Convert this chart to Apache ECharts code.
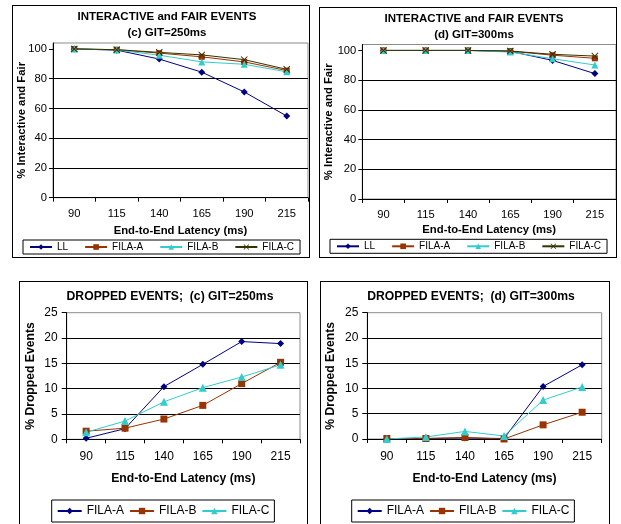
<!DOCTYPE html>
<html>
<head>
<meta charset="utf-8">
<script src="https://cdn.jsdelivr.net/npm/echarts@6/dist/echarts.min.js"></script>
<style>
  html, body { margin: 0; padding: 0; background: #fff; width: 621px; height: 524px; overflow: hidden; position: relative; }
  .panel { position: absolute; box-sizing: border-box; border: 1px solid #000; background: #fff; }
</style>
</head>
<body>
<div id="fair250" class="panel" style="left:12px;top:5px;width:298px;height:253px"></div>
<div id="fair300" class="panel" style="left:319px;top:7px;width:298px;height:251px"></div>
<div id="drop250" class="panel" style="left:19px;top:281px;width:289px;height:260px"></div>
<div id="drop300" class="panel" style="left:320px;top:281px;width:290px;height:260px"></div>
<script>
// End-to-end latency categories (ms)
const latencies = ['90', '115', '140', '165', '190', '215'];

// Axis tick labels
const fairTicks = [0, 20, 40, 60, 80, 100];
const dropTicks = [0, 5, 10, 15, 20, 25];

// % interactive and fair, GIT = 250 ms
const fair250LL    = [100, 99.2, 93.2, 84.4, 71.1, 54.9];
const fair250FilaA = [100, 99.5, 97.2, 94.7, 91.3, 85.5];
const fair250FilaB = [100, 99.3, 95.8, 91.3, 89.7, 84.6];
const fair250FilaC = [100, 99.5, 97.7, 96.0, 92.8, 86.3];

// % interactive and fair, GIT = 300 ms
const fair300LL    = [100, 100, 100, 99.4, 93.3, 84.4];
const fair300FilaA = [100, 100, 100, 99.5, 96.8, 94.7];
const fair300FilaB = [100, 100, 100, 98.9, 94.4, 90.2];
const fair300FilaC = [100, 100, 100, 99.6, 97.4, 96.2];

// % dropped events, GIT = 250 ms
const drop250FilaA = [0.2, 2.1, 10.4, 14.8, 19.3, 18.9];
const drop250FilaB = [1.6, 2.2, 4.0, 6.7, 11.0, 15.2];
const drop250FilaC = [1.4, 3.6, 7.4, 10.2, 12.3, 14.7];

// % dropped events, GIT = 300 ms
const drop300FilaA = [0, 0.1, 0.2, 0.1, 10.4, 14.7];
const drop300FilaB = [0.1, 0.1, 0.3, 0, 2.8, 5.3];
const drop300FilaC = [0, 0.4, 1.5, 0.6, 7.7, 10.3];

const NAVY = '#000080', BROWN = '#993300', CYAN = '#33CCCC', OLIVE = '#333300';
const CROSS = 'path://M0,1 L1,0 L5,4 L9,0 L10,1 L6,5 L10,9 L9,10 L5,6 L1,10 L0,9 L4,5 Z';
const FONT = '"Liberation Sans", Arial, sans-serif';

function lineSeries(name, data, color, symbol, size) {
  return {
    name: name, type: 'line', data: data,
    symbol: symbol, symbolSize: size, showSymbol: true,
    lineStyle: { width: 1, color: color },
    itemStyle: { color: color },
    emphasis: { disabled: true }
  };
}

function build(id, p) {
  const chart = echarts.init(document.getElementById(id), null, { renderer: 'canvas' });
  chart.setOption({
    animation: false,
    textStyle: { fontFamily: FONT, color: '#000' },
    title: {
      text: p.title, left: p.titleX, top: p.titleY, textAlign: 'center', padding: 0,
      textStyle: { fontFamily: FONT, fontSize: p.titleSize, fontWeight: 'bold', lineHeight: 16, color: '#000' }
    },
    grid: {
      left: p.grid[0], top: p.grid[1], width: p.grid[2], height: p.grid[3],
      outerBoundsMode: 'none', containLabel: false,
      show: true, borderColor: '#8c8c8c', borderWidth: 1, backgroundColor: '#fff'
    },
    xAxis: {
      type: 'category', data: latencies, boundaryGap: true,
      name: 'End-to-End Latency (ms)', nameLocation: 'middle', nameGap: p.xNameGap,
      nameMoveOverlap: false,
      nameTextStyle: { fontFamily: FONT, fontSize: p.nameSize, fontWeight: 'bold', color: '#000' },
      axisLine: { show: true, lineStyle: { color: '#000', width: 1 } },
      axisTick: { show: true, length: 4, lineStyle: { color: '#000' } },
      axisLabel: { fontFamily: FONT, fontSize: p.labelSize, color: '#000', margin: p.xMargin },
      splitLine: { show: false }
    },
    yAxis: {
      type: 'value', min: 0, max: p.yMax,
      name: p.yName, nameLocation: 'middle', nameGap: p.yNameGap,
      nameMoveOverlap: false,
      nameTextStyle: { fontFamily: FONT, fontSize: p.nameSize, fontWeight: 'bold', color: '#000' },
      axisLine: { show: true, lineStyle: { color: '#000', width: 1 } },
      axisTick: { show: true, length: p.yTickLen, lineStyle: { color: '#000' }, customValues: p.ticks },
      axisLabel: { fontFamily: FONT, fontSize: p.labelSize, color: '#000', margin: p.yMargin, customValues: p.ticks },
      splitLine: { show: true, showMaxLine: false, lineStyle: { color: '#000', width: 1 } }
    },
    legend: {
      left: p.legend[0], top: p.legend[1], orient: 'horizontal',
      padding: p.legendPad, itemGap: p.legendGap, itemWidth: p.legendItemW, itemHeight: p.legendIcon,
      borderColor: '#000', borderWidth: 1, backgroundColor: '#fff',
      textStyle: { fontFamily: FONT, fontSize: p.legendSize, color: '#000' },
      selectedMode: false
    },
    series: p.series
  });
}

const topCommon = {
  yMax: 104, ticks: fairTicks, yName: '% Interactive and Fair',
  titleSize: 11.5, nameSize: 11.3, labelSize: 11.2, yTickLen: 4, yMargin: 6,
  legendPad: [2, 6], legendGap: 16, legendItemW: 22, legendIcon: 7, legendSize: 10
};
const bottomCommon = {
  yMax: 25, ticks: dropTicks, yName: '% Dropped Events',
  titleSize: 12.2, nameSize: 12.2, labelSize: 12, yTickLen: 5, yMargin: 9,
  legendPad: [5, 5], legendGap: 5, legendItemW: 24, legendIcon: 8, legendSize: 12
};

build('fair250', Object.assign({}, topCommon, {
  title: 'INTERACTIVE and FAIR EVENTS\n(c) GIT=250ms', titleX: 154, titleY: 3,
  grid: [40, 37, 255, 154.7], xNameGap: 27.5, yNameGap: 25.5, xMargin: 11,
  legend: [10, 234],
  series: [
    lineSeries('LL', fair250LL, NAVY, 'diamond', 7),
    lineSeries('FILA-A', fair250FilaA, BROWN, 'rect', 6),
    lineSeries('FILA-B', fair250FilaB, CYAN, 'triangle', 7),
    lineSeries('FILA-C', fair250FilaC, OLIVE, CROSS, 7)
  ]
}));

build('fair300', Object.assign({}, topCommon, {
  title: 'INTERACTIVE and FAIR EVENTS\n(d) GIT=300ms', titleX: 154, titleY: 3,
  grid: [42.3, 36.5, 253.7, 154.5], xNameGap: 25.5, yNameGap: 28, xMargin: 10,
  legend: [10, 231.3],
  series: [
    lineSeries('LL', fair300LL, NAVY, 'diamond', 7),
    lineSeries('FILA-A', fair300FilaA, BROWN, 'rect', 6),
    lineSeries('FILA-B', fair300FilaB, CYAN, 'triangle', 7),
    lineSeries('FILA-C', fair300FilaC, OLIVE, CROSS, 7)
  ]
}));

build('drop250', Object.assign({}, bottomCommon, {
  title: 'DROPPED EVENTS;  (c) GIT=250ms', titleX: 150, titleY: 7,
  grid: [46.7, 30.7, 233.3, 126.6], xNameGap: 33.5, yNameGap: 30.5, xMargin: 11.5,
  legend: [31.7, 218],
  series: [
    lineSeries('FILA-A', drop250FilaA, NAVY, 'diamond', 7),
    lineSeries('FILA-B', drop250FilaB, BROWN, 'rect', 7),
    lineSeries('FILA-C', drop250FilaC, CYAN, 'triangle', 8)
  ]
}));

build('drop300', Object.assign({}, bottomCommon, {
  title: 'DROPPED EVENTS;  (d) GIT=300ms', titleX: 150, titleY: 7,
  grid: [46.3, 30.7, 234.4, 126.3], xNameGap: 33.5, yNameGap: 31, xMargin: 11.5,
  legend: [30.7, 218],
  series: [
    lineSeries('FILA-A', drop300FilaA, NAVY, 'diamond', 7),
    lineSeries('FILA-B', drop300FilaB, BROWN, 'rect', 7),
    lineSeries('FILA-C', drop300FilaC, CYAN, 'triangle', 8)
  ]
}));
</script>
</body>
</html>
